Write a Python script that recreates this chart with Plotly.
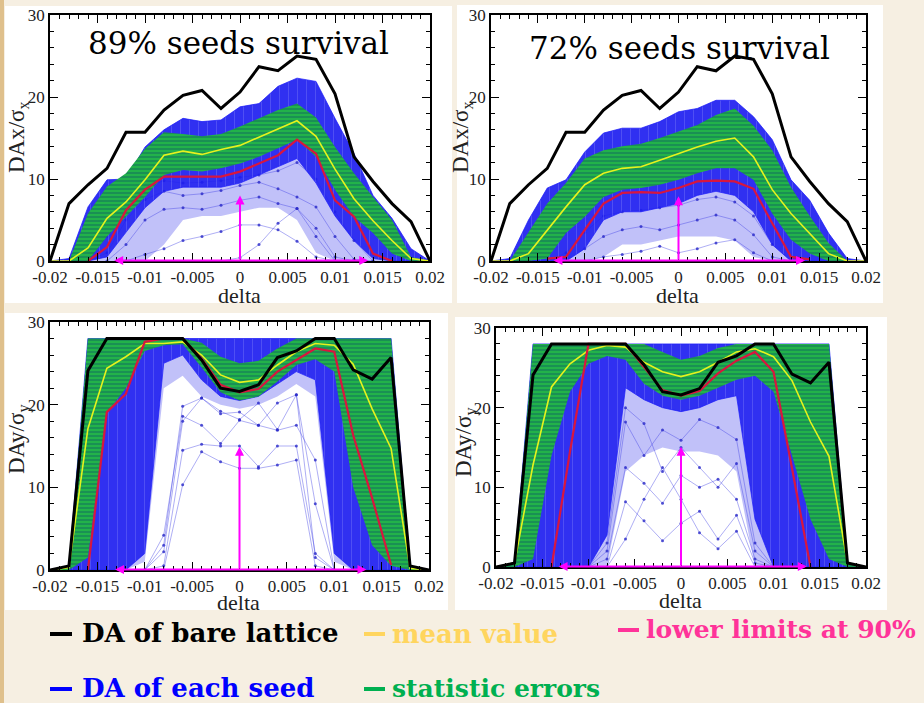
import plotly.graph_objects as go

# ---------------- data ----------------
DELTA = [-0.020, -0.018, -0.016, -0.014, -0.012, -0.010, -0.008, -0.006, -0.004, -0.002, 0.000,
         0.002, 0.004, 0.006, 0.008, 0.010, 0.012, 0.014, 0.016, 0.018, 0.020]
X_TICKS = [-0.02, -0.015, -0.01, -0.005, 0, 0.005, 0.01, 0.015, 0.02]
X_TICK_LABELS = ["-0.02", "-0.015", "-0.01", "-0.005", "0", "0.005", "0.01", "0.015", "0.02"]
Y_TICKS = [0, 10, 20, 30]
Y_TICK_LABELS = ["0", "10", "20", "30"]
N = None

# horizontal dynamic aperture (DAx/sigma_x)
bare_x = [0, 7.0, 9.3, 11.3, 15.7, 15.7, 18.4, 20.2, 20.8, 18.6, 20.6, 23.7, 23.2, 25.0, 24.6, 20.4, 12.7, 9.7, 7.0, 4.8, 0]
# vertical dynamic aperture (DAy/sigma_y)
bare_y = [0, 0.5, 24.1, 28, 28, 28, 28, 28, 25.4, 22.0, 21.6, 22.4, 25.7, 26.5, 28, 28, 24.2, 23.1, 25.7, 0.5, 0]

# ---- panel 1 : DAx, 89% survival
p1_mean = [0, 0, 1.6, 5.2, 7.2, 9.9, 12.9, 13.4, 13.0, 13.6, 14.1, 15.1, 16.1, 17.1, 15.2, 11.2, 7.6, 4.9, 2.5, 0.3, 0]
p1_low90 = [N, N, 0, 1.7, 6.2, 8.7, 10.3, 10.3, 10.3, 10.3, 10.9, 11.9, 12.9, 14.8, 13.1, 7.4, 5.4, 0.9, 0, N, N]
p1_err_hi = [0, 0, 5.8, 9.1, 10.7, 13.7, 15.7, 15.5, 15.2, 15.5, 16.4, 17.4, 18.4, 19.2, 17.5, 13.9, 10.7, 7.8, 5.0, 0.5, 0]
p1_err_lo = [0, 0, 0, 3.0, 5.4, 7.8, 10.5, 11.1, 10.9, 11.3, 11.9, 12.7, 13.7, 14.8, 12.7, 8.7, 5.4, 3.4, 0.9, 0, 0]
p1_seed_max = [0, 0.3, 6.6, 9.9, 10.0, 13.9, 16.0, 17.4, 17.0, 17.2, 18.8, 19.2, 21.3, 22.3, 21.9, 17.4, 13.1, 8.0, 5.2, 1.5, 0]
p1_seed_dense_lo = [0, 0, 0, 0.5, 3.5, 6.5, 8.5, 9.0, 9.0, 9.0, 9.5, 10.5, 11.5, 12.5, 9.5, 5.5, 2.5, 0.3, 0, 0, 0]
p1_seed_light_lo = [0, 0, 0, 0, 0, 0, 2.0, 5.0, 5.5, 5.5, 6.0, 6.5, 6.5, 5.0, 1.0, 0, 0, 0, 0, 0, 0]
p1_seeds = [
    [N, N, N, N, 0.0, 0.8, 1.5, 2.5, 3.0, 3.6, 4.4, 4.4, 3.8, 2.4, 0.5, 0.0, N, N, N, N, N],
    [N, N, N, 0.0, 2.0, 5.0, 6.3, 6.5, 6.3, 6.8, 7.4, 7.8, 7.0, 6.4, 4.0, 0.5, 0.0, N, N, N, N],
    [N, N, N, N, N, N, N, N, N, 0.0, 0.4, 2.0, 4.6, 6.4, 3.0, 0.0, N, N, N, N, N],
    [N, N, 0.0, 1.0, 5.0, 7.5, 8.5, 8.0, 8.2, 8.6, 9.2, 9.6, 8.8, 7.8, 6.6, 3.0, 0.2, 0.0, N, N, N],
    [N, N, 0.0, 3.0, 6.5, 9.0, 9.8, 9.5, 9.6, 9.8, 10.2, 10.5, 11.0, 12.0, 10.0, 6.0, 2.5, 0.0, N, N, N],
]
p1_arrow = {"x_left": -0.0134, "x_right": 0.0135, "y_top": 8.0}

# ---- panel 2 : DAx, 72% survival
p2_mean = [0, 0, 0.9, 3.8, 6.6, 9.3, 10.7, 11.3, 11.5, 12.3, 13.1, 13.9, 14.6, 15.0, 12.7, 8.7, 5.8, 3.4, 0.9, 0, 0]
p2_low90 = [N, N, N, 0.3, 0.5, 3.8, 7.0, 8.3, 8.4, 8.3, 8.9, 9.7, 9.8, 9.7, 8.8, 4.6, 0.5, 0.2, N, N, N]
p2_err_hi = [0, 0, 3.5, 7.0, 9.5, 12.5, 13.5, 14.0, 14.3, 15.0, 15.8, 16.6, 17.8, 18.6, 16.5, 13.5, 9.0, 5.5, 2.2, 0, 0]
p2_err_lo = [0, 0, 0, 0.3, 3.4, 5.4, 7.8, 8.7, 8.9, 9.3, 9.9, 10.7, 11.3, 11.3, 9.9, 5.8, 2.6, 0.9, 0, 0, 0]
p2_seed_max = [0, 0.3, 5.0, 8.9, 9.9, 13.3, 15.6, 16.2, 16.2, 17.0, 18.2, 18.6, 19.6, 19.6, 17.6, 14.8, 9.9, 7.4, 3.4, 0.3, 0]
p2_seed_dense_lo = [0, 0, 0, 0, 0, 1.5, 5.0, 6.0, 6.0, 6.5, 7.0, 8.0, 8.5, 8.0, 6.0, 2.0, 0, 0, 0, 0, 0]
p2_seed_light_lo = [0, 0, 0, 0, 0, 0, 0.5, 2.0, 2.0, 2.5, 3.0, 3.0, 3.0, 2.5, 0.5, 0, 0, 0, 0, 0, 0]
p2_seeds = [
    [N, N, N, N, N, 0.0, 0.5, 0.8, 1.2, 1.8, 1.0, 1.5, 2.2, 2.6, 1.0, 0.0, N, N, N, N, N],
    [N, N, N, N, 0.0, 1.5, 3.0, 3.8, 4.2, 3.8, 4.4, 5.0, 5.6, 5.0, 3.2, 0.5, 0.0, N, N, N, N],
    [N, N, N, 0.0, 1.0, 3.5, 5.5, 6.0, 6.2, 6.5, 6.8, 7.5, 7.8, 7.2, 5.5, 2.0, 0.0, N, N, N, N],
]
p2_arrow = {"x_left": -0.0135, "x_right": 0.0135, "y_top": 7.9}

# ---- panel 3 : DAy, 89% survival
p3_mean = [0, 0.3, 17.1, 24.4, 25.8, 27.4, 27.4, 27.6, 26.0, 23.6, 22.7, 23.0, 24.8, 26.4, 27.4, 27.2, 24.9, 19.5, 14.7, 0.2, 0]
p3_low90 = [N, N, 0, 19.1, 21.3, 27.6, 28, 28, 25.6, 22.4, 21.5, 21.9, 24.0, 25.4, 26.8, 26.4, 16.3, 8.7, 0.6, N, N]
p3_err_hi = [0, 0.5, 28, 28, 28, 28, 28, 28, 27.5, 25.8, 25.0, 25.3, 26.8, 28, 28, 28, 28, 28, 28, 0.5, 0]
p3_err_lo = [0, 0, 1.5, 19.0, 22.0, 26.5, 27.2, 27.3, 24.5, 21.5, 20.5, 21.0, 22.8, 24.8, 25.5, 24.0, 10.0, 3.0, 0.5, 0, 0]
p3_seed_max = [0, 0.5, 28, 28, 28, 28, 28, 28, 28, 28, 28, 28, 28, 28, 28, 28, 28, 28, 28, 0.5, 0]
p3_seed_dense_lo = [0, 0, 0, 0, 0, 2.0, 25.0, 26.0, 23.0, 21.0, 20.5, 21.0, 22.5, 24.0, 23.0, 2.0, 0, 0, 0, 0, 0]
p3_seed_light_lo = [0, 0, 0, 0, 0, 1.0, 22.0, 23.5, 21.0, 20.0, 19.5, 20.0, 21.0, 22.5, 21.0, 1.0, 0, 0, 0, 0, 0]
p3_seeds = [
    [N, N, N, N, N, 0.0, 3.0, 19.8, 20.8, 18.9, 19.1, 17.5, 20.2, 21.2, 1.5, 0.0, N, N, N, N, N],
    [N, N, N, N, N, 0.0, 4.2, 18.6, 17.5, 15.3, 18.1, 17.5, 16.9, 17.5, 13.3, 0.0, N, N, N, N, N],
    [N, N, N, N, N, 0.0, 0.5, 14.5, 15.2, 15.0, 15.0, 12.5, 15.0, 15.0, 2.0, 0.0, N, N, N, N, N],
    [N, N, N, N, N, 0.0, 0.0, 10.3, 14.3, 13.1, 12.3, 12.3, 12.7, 13.3, 0.5, 0.0, N, N, N, N, N],
    [N, N, N, N, N, 0.0, 2.2, 18.0, 20.8, 19.2, 18.2, 20.2, 17.0, 21.2, 8.0, 0.0, N, N, N, N, N],
]
p3_arrow = {"x_left": -0.0133, "x_right": 0.0134, "y_top": 14.9}

# ---- panel 4 : DAy, 72% survival
p4_mean = [0, 0.5, 12.8, 22.6, 25.5, 27.2, 27.8, 27.6, 25.7, 24.5, 23.9, 24.5, 25.7, 27.0, 27.4, 26.4, 23.4, 18.2, 13.9, 0.5, 0]
p4_low90 = [N, N, N, 0, 14.5, 28, 28, 28, 25.1, 22.2, 21.5, 22.1, 24.3, 25.9, 27.0, 24.5, 12.4, 0, N, N, N]
p4_err_hi = [0, 0.5, 28, 28, 28, 28, 28, 28, 28, 27.0, 26.0, 26.5, 27.5, 28, 28, 28, 28, 28, 28, 0.5, 0]
p4_err_lo = [0, 0, 1.0, 14.0, 22.0, 25.5, 26.5, 26.0, 23.0, 21.5, 21.0, 21.5, 22.5, 23.5, 24.0, 22.0, 14.0, 6.0, 1.0, 0, 0]
p4_seed_max = [0, 0.5, 28, 28, 28, 28, 28, 28, 28, 28, 28, 28, 28, 28, 28, 28, 28, 28, 28, 0.5, 0]
p4_seed_dense_lo = [0, 0, 0, 0, 0, 0, 4.0, 22.5, 21.0, 20.0, 19.5, 20.0, 21.0, 21.5, 6.0, 0, 0, 0, 0, 0, 0]
p4_seed_light_lo = [0, 0, 0, 0, 0, 0, 0, 12.0, 14.0, 15.0, 14.5, 14.5, 14.0, 12.0, 0, 0, 0, 0, 0, 0, 0]
p4_seeds = [
    [N, N, N, N, N, 0.0, 2.0, 18.2, 14.0, 17.2, 15.9, 18.5, 17.5, 16.0, 3.0, 0.0, N, N, N, N, N],
    [N, N, N, N, N, 0.0, 1.0, 12.5, 10.5, 8.0, 11.5, 10.0, 11.0, 8.5, 1.0, 0.0, N, N, N, N, N],
    [N, N, N, N, N, 0.0, 0.0, 8.2, 5.8, 3.3, 5.5, 7.0, 3.5, 6.5, 0.5, 0.0, N, N, N, N, N],
    [N, N, N, N, N, 0.0, 0.0, 3.5, 8.5, 12.5, 8.5, 4.3, 2.3, 4.5, 0.0, 0.0, N, N, N, N, N],
    [N, N, N, N, N, 0.0, 3.0, 20.0, 18.0, 12.0, 15.0, 12.5, 10.0, 13.0, 2.0, 0.0, N, N, N, N, N],
]
p4_arrow = {"x_left": -0.0134, "x_right": 0.0136, "y_top": 15.1}

TITLES = ["89% seeds survival", "72% seeds survival", None, None]
Y_TITLES = ["DAx/σ<sub>x</sub>", "DAx/σ<sub>x</sub>", "DAy/σ<sub>y</sub>", "DAy/σ<sub>y</sub>"]

LEGEND_LABELS = ["DA of bare lattice", "mean value", "lower limits at 90%", "DA of each seed", "statistic errors"]
LEGEND_COLORS = ["#000000", "#ffd55e", "#ff3399", "#0000ff", "#00b050"]

# ---------------- layout geometry (pixels) ----------------
W, H = 924, 703
PLOTS = [(50, 430, 15, 261), (491, 866, 15, 261), (50, 429, 322, 570), (496, 866, 328, 567)]
BOXES = [(5, 452, 6, 303), (457, 883, 5, 303), (5, 448, 313, 610), (455, 887, 317, 610)]
TITLE_POS = [(239, 43), (679, 48)]
YT_POS = [(18, 137), (462, 137), (18, 440), (465, 443)]
XT_POS = [(240, 295), (677, 295), (239, 602), (680, 600)]
LEG_DASH = [(50, 72, 634), (364, 385, 634), (618, 639, 630), (50, 72, 689), (364, 385, 689)]
LEG_TEXT = [(80, 633), (390, 634), (644, 629), (80, 688), (390, 688)]
LEG_SIZE = [26, 26, 25, 26, 25]

SERIF = "Liberation Serif, Times New Roman, serif"


def fx(px):
    return px / W


def fy(py):
    return 1 - py / H


panels = [
    (bare_x, p1_mean, p1_low90, p1_err_lo, p1_err_hi, p1_seed_max, p1_seed_dense_lo, p1_seed_light_lo, p1_seeds, p1_arrow),
    (bare_x, p2_mean, p2_low90, p2_err_lo, p2_err_hi, p2_seed_max, p2_seed_dense_lo, p2_seed_light_lo, p2_seeds, p2_arrow),
    (bare_y, p3_mean, p3_low90, p3_err_lo, p3_err_hi, p3_seed_max, p3_seed_dense_lo, p3_seed_light_lo, p3_seeds, p3_arrow),
    (bare_y, p4_mean, p4_low90, p4_err_lo, p4_err_hi, p4_seed_max, p4_seed_dense_lo, p4_seed_light_lo, p4_seeds, p4_arrow),
]

fig = go.Figure()
shapes = [dict(type="rect", xref="paper", yref="paper", x0=0, x1=fx(4), y0=0, y1=1,
               fillcolor="#dfc08c", line=dict(width=0), layer="below")]
annotations = []
layout = {}

TICKFONT = dict(family=SERIF, size=17, color="#222222")


def band(xs, lo, hi):
    return xs + xs[::-1], hi + lo[::-1]


for k, (bare, mean, low90, elo, ehi, smax, sdense, slight, seeds, arrow) in enumerate(panels):
    i = k + 1
    xa = "x" if i == 1 else f"x{i}"
    ya = "y" if i == 1 else f"y{i}"
    x0, x1, y0, y1 = PLOTS[k]
    bx0, bx1, by0, by1 = BOXES[k]
    shapes.append(dict(type="rect", xref="paper", yref="paper", x0=fx(bx0), x1=fx(bx1), y0=fy(by1), y1=fy(by0),
                       fillcolor="white", line=dict(width=0), layer="below"))

    # light (sparse) seed region
    bxs, bys = band(DELTA, slight, smax)
    fig.add_trace(go.Scatter(x=bxs, y=bys, xaxis=xa, yaxis=ya, fill="toself", mode="lines",
                             line=dict(width=0), fillcolor="rgba(100,100,240,0.40)", hoverinfo="skip"))
    # individual low seeds
    for s in seeds:
        fig.add_trace(go.Scatter(x=DELTA, y=s, xaxis=xa, yaxis=ya, mode="lines+markers",
                                 line=dict(color="rgba(70,70,230,0.55)", width=0.8),
                                 marker=dict(size=3, color="rgba(40,40,200,0.8)"), hoverinfo="skip"))
    # dense seed region
    bxs, bys = band(DELTA, sdense, smax)
    fig.add_trace(go.Scatter(x=bxs, y=bys, xaxis=xa, yaxis=ya, fill="toself", mode="lines",
                             line=dict(width=0.8, color="rgba(30,30,250,0.9)"), fillcolor="rgba(28,28,240,0.85)",
                             fillpattern=dict(shape="|", fgcolor="rgba(200,200,255,0.55)", bgcolor="rgba(28,28,240,0.88)",
                                              size=9, solidity=0.08),
                             hoverinfo="skip"))
    # statistic error band
    bxs, bys = band(DELTA, elo, ehi)
    fig.add_trace(go.Scatter(x=bxs, y=bys, xaxis=xa, yaxis=ya, fill="toself", mode="lines",
                             line=dict(width=0), fillcolor="#1fa64c",
                             fillpattern=dict(shape="-", fgcolor="#0b4f66", bgcolor="#22b24a", size=4, solidity=0.35),
                             hoverinfo="skip"))
    # mean, lower limit, bare lattice
    fig.add_trace(go.Scatter(x=DELTA, y=mean, xaxis=xa, yaxis=ya, mode="lines",
                             line=dict(color="#e6f21e", width=1.6), hoverinfo="skip"))
    fig.add_trace(go.Scatter(x=DELTA, y=low90, xaxis=xa, yaxis=ya, mode="lines",
                             line=dict(color="#d8163e", width=2.2), hoverinfo="skip"))
    fig.add_trace(go.Scatter(x=DELTA, y=bare, xaxis=xa, yaxis=ya, mode="lines",
                             line=dict(color="#000000", width=3), hoverinfo="skip"))

    axis_common = dict(showline=True, linecolor="black", linewidth=1.5, mirror="allticks",
                       ticks="inside", ticklen=8, tickwidth=1.2, tickcolor="black",
                       showgrid=False, zeroline=False, tickfont=TICKFONT, automargin=False,
                       tickmode="array")
    layout["xaxis" if i == 1 else f"xaxis{i}"] = dict(
        axis_common, domain=[fx(x0), fx(x1)], anchor=ya, range=[-0.02, 0.02],
        tickvals=X_TICKS, ticktext=X_TICK_LABELS,
        minor=dict(ticks="inside", ticklen=4, tickcolor="black", tickwidth=1, tickmode="linear",
                   tick0=-0.02, dtick=0.001, showgrid=False))
    layout["yaxis" if i == 1 else f"yaxis{i}"] = dict(
        axis_common, domain=[fy(y1), fy(y0)], anchor=xa, range=[0, 30],
        tickvals=Y_TICKS, ticktext=Y_TICK_LABELS,
        minor=dict(ticks="inside", ticklen=4, tickcolor="black", tickwidth=1, tickmode="linear",
                   tick0=0, dtick=2, showgrid=False))

    # magenta arrows
    arrow_style = dict(showarrow=True, arrowcolor="#ff00ff", arrowwidth=2, arrowhead=2, arrowsize=0.9,
                       text="", xref=xa, yref=ya, axref=xa, ayref=ya)
    annotations.append(dict(arrow_style, x=arrow["x_right"], y=0.05, ax=arrow["x_left"], ay=0.05,
                            arrowside="end+start"))
    annotations.append(dict(arrow_style, x=0, y=arrow["y_top"], ax=0, ay=0))

    # axis titles
    annotations.append(dict(text="delta", xref="paper", yref="paper", x=fx(XT_POS[k][0]), y=fy(XT_POS[k][1]),
                            showarrow=False, font=dict(family=SERIF, size=22, color="#222222"),
                            xanchor="center", yanchor="middle"))
    annotations.append(dict(text=Y_TITLES[k], xref="paper", yref="paper", x=fx(YT_POS[k][0]), y=fy(YT_POS[k][1]),
                            showarrow=False, textangle=-90,
                            font=dict(family=SERIF, size=23, color="#222222"),
                            xanchor="center", yanchor="middle"))
    if TITLES[k]:
        annotations.append(dict(text=TITLES[k], xref="paper", yref="paper", x=fx(TITLE_POS[k][0]),
                                y=fy(TITLE_POS[k][1]), showarrow=False,
                                font=dict(family="DejaVu Serif", size=31, color="black"),
                                xanchor="center", yanchor="middle"))

# legend (slide text)
for label, col, (dx0, dx1, dyy), (tx, ty), fs in zip(LEGEND_LABELS, LEGEND_COLORS, LEG_DASH, LEG_TEXT, LEG_SIZE):
    shapes.append(dict(type="line", xref="paper", yref="paper", x0=fx(dx0), x1=fx(dx1), y0=fy(dyy), y1=fy(dyy),
                       line=dict(color=col, width=4)))
    annotations.append(dict(text=f"<b>{label}</b>", xref="paper", yref="paper", x=fx(tx), y=fy(ty),
                            showarrow=False, font=dict(family="DejaVu Serif", size=fs, color=col),
                            xanchor="left", yanchor="middle"))

fig.update_layout(
    width=W, height=H, margin=dict(l=0, r=0, t=0, b=0),
    paper_bgcolor="#f6efe2", plot_bgcolor="rgba(0,0,0,0)",
    showlegend=False, shapes=shapes, annotations=annotations, **layout)

fig.write_html("out.html")
